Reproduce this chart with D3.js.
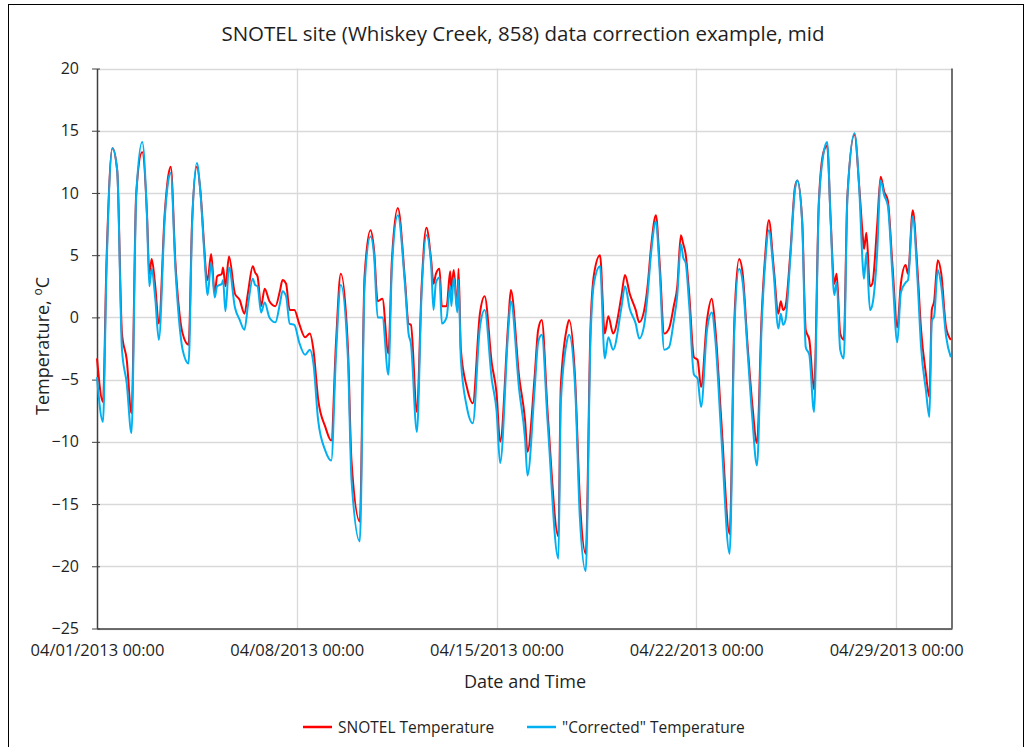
<!DOCTYPE html>
<html>
<head>
<meta charset="utf-8">
<script src="https://cdn.jsdelivr.net/npm/d3@7"></script>
<style>
  body { margin: 0; background: #fff; }
  text { font-family: "Open Sans", "Noto Sans", sans-serif; fill: #1f1f1f; }
</style>
</head>
<body>
<div id="chart"></div>
<script>
// hours after 04/01/2013 00:00 at turning points
const hours = [0, 5, 8, 13, 17, 21, 25, 29, 33, 38, 42, 44, 46, 49, 52, 57, 60, 62, 66, 70,
  72, 77, 80, 84, 87, 90, 92, 93, 96, 99, 101, 105, 106, 108, 111, 116, 120, 124, 127, 131,
  133, 135, 138, 141, 145, 150, 154, 156, 159, 162, 166, 170, 175, 179, 182, 186, 192, 197, 201, 205,
  211, 214, 221, 225, 230, 233, 236, 240, 245, 248, 253, 259, 262, 264, 269, 273, 277, 281, 283, 285,
  288, 290, 294, 297, 298, 300, 303, 304, 306, 311, 316, 322, 326, 332, 336, 339, 346, 348, 355, 360,
  362, 368, 371, 374, 379, 388, 390, 395, 397, 402, 406, 411, 415, 418, 423, 427, 430, 434, 441, 444,
  448, 453, 456, 460, 463, 466, 470, 473, 477, 481, 485, 488, 491, 493, 495, 498, 502, 505, 508, 513,
  517, 520, 525, 532, 536, 540, 543, 547, 551, 555, 559, 562, 565, 569, 573, 575, 577, 579, 583, 587,
  589, 593, 596, 599, 603, 607, 611, 614, 617, 620, 622, 625, 628, 631, 637, 641, 644, 645, 647, 650,
  652, 656, 659, 662, 665, 669, 673, 676, 680, 682, 686, 690, 693, 697, 700, 702, 704, 707, 710, 714, 718];

const snotel = [-3.3, -6.8, 4.5, 13.6, 11.8, -1.3, -3.4, -7.7, 10.0, 13.3, 8.4, 3.5, 4.7, 2.5, -0.5, 8.4, 11.4, 12.1, 4.3, -0.2,
  -1.3, -2.2, 7.8, 12.1, 10.1, 5.9, 3.3, 3.0, 5.1, 1.9, 3.3, 3.5, 4.0, 2.5, 4.9, 1.9, 1.4, 0.3, 2.0, 4.1,
  3.6, 3.3, 0.9, 2.3, 1.3, 0.9, 2.2, 3.0, 2.7, 0.6, 0.6, -0.5, -1.6, -1.3, -2.6, -6.6, -8.8, -9.9, -2.0, 3.5,
  -2.4, -11.5, -16.4, 3.3, 7.0, 5.4, 1.3, 1.5, -2.9, 4.6, 8.8, 3.0, -0.5, -0.6, -7.6, 2.5, 7.2, 4.6, 2.7, 3.5,
  3.9, 0.9, 0.9, 3.7, 2.2, 3.8, 0.6, 3.9, -2.6, -5.6, -6.9, 0.3, 1.7, -3.7, -6.1, -10.0, -0.2, 2.2, -4.8, -8.3,
  -10.8, -4.8, -1.0, -0.2, -7.7, -17.6, -5.6, -0.9, -0.2, -4.8, -14.5, -19.0, -0.8, 3.5, 5.0, -1.3, 0.1, -1.3, 1.7, 3.4,
  1.9, 0.6, -0.4, 0.5, 2.5, 5.7, 8.2, 4.6, -1.3, -0.9, 0.9, 2.5, 6.6, 5.9, 5.1, 1.9, -3.2, -3.4, -5.6, -0.2,
  1.5, -0.9, -8.3, -17.4, -0.2, 4.7, 3.5, -2.1, -6.9, -10.1, 0.3, 5.1, 7.8, 4.1, 0.3, 1.3, 0.6, 0.9, 5.1, 10.5,
  11.0, 7.8, -1.0, -1.8, -5.8, 9.2, 13.3, 13.8, 7.8, 2.7, 3.5, -1.3, -1.8, 9.7, 14.7, 10.5, 6.5, 5.5, 6.8, 2.5,
  2.7, 7.3, 11.3, 10.1, 9.4, 4.1, -0.8, 2.7, 4.2, 3.5, 8.6, 3.8, -1.0, -4.5, -6.4, 0.6, 1.3, 4.6, 3.5, -0.8, -1.8];

const corrected = [-4.8, -8.4, 3.8, 13.6, 11.8, -2.6, -5.3, -9.3, 9.8, 14.1, 8.2, 2.5, 3.9, 1.5, -1.8, 8.0, 11.0, 11.6, 3.8, -1.2,
  -2.6, -3.7, 7.5, 12.4, 10.0, 5.5, 2.6, 1.8, 4.4, 1.6, 2.5, 2.7, 3.0, 0.5, 4.0, 0.8, -0.2, -1.0, 1.0, 3.1,
  2.6, 2.5, 0.4, 1.2, 0.0, -0.4, 1.2, 2.1, 1.7, -0.5, -0.6, -2.0, -3.0, -2.6, -3.7, -8.3, -10.7, -11.5, -3.0, 2.6,
  -3.3, -13.0, -18.0, 2.5, 6.5, 5.0, 0.0, 0.0, -4.6, 4.0, 8.2, 2.6, -1.3, -2.1, -9.2, 2.0, 6.6, 4.2, 0.6, 2.8,
  3.2, -0.5, 0.0, 2.5, 0.9, 3.2, 0.4, 3.0, -3.4, -7.2, -8.5, -0.8, 0.6, -5.0, -7.5, -11.7, -0.8, 1.3, -5.8, -9.8,
  -12.7, -5.8, -2.0, -1.4, -8.5, -19.4, -7.0, -2.0, -1.4, -5.5, -16.0, -20.4, -1.8, 2.8, 4.1, -3.3, -1.6, -2.6, 0.8, 2.5,
  0.7, -0.5, -1.7, -0.7, 1.8, 5.2, 7.7, 4.0, -2.6, -2.4, -0.3, 1.8, 5.9, 4.8, 4.4, 1.0, -4.6, -4.9, -7.2, -1.0,
  0.4, -1.8, -9.5, -19.0, -1.0, 3.9, 2.8, -2.6, -8.0, -11.9, -0.5, 4.5, 7.0, 3.6, -0.9, 0.3, -0.6, -0.2, 4.7, 10.3,
  11.0, 7.6, -2.4, -3.0, -7.6, 9.0, 13.2, 14.1, 7.6, 1.8, 2.8, -2.6, -3.3, 9.5, 14.8, 10.3, 4.1, 3.1, 5.2, 0.6,
  1.0, 5.1, 11.0, 9.8, 9.0, 3.3, -2.0, 2.0, 2.8, 3.0, 8.1, 3.0, -2.4, -5.8, -8.0, -0.3, 0.1, 3.8, 2.5, -1.5, -3.2];

const tickDays = [0, 7, 14, 21, 28];
const tickLabels = ["04/01/2013 00:00", "04/08/2013 00:00", "04/15/2013 00:00", "04/22/2013 00:00", "04/29/2013 00:00"];
const yTicks = [-25, -20, -15, -10, -5, 0, 5, 10, 15, 20];
const seriesNames = ["SNOTEL Temperature", "\"Corrected\" Temperature"];
const seriesColors = ["#ff0000", "#00b0f0"];

const W = 1030, H = 747;
const margin = { top: 68.5, right: 78, bottom: 118.5, left: 97 };
const start = Date.UTC(2013, 3, 1);
const toDate = h => new Date(start + h * 3600000);

const svg = d3.select("#chart").append("svg").attr("width", W).attr("height", H);

// outer chart border
svg.append("rect").attr("x", 8.5).attr("y", 4.5).attr("width", 1015).attr("height", 760)
  .attr("fill", "none").attr("stroke", "#000").attr("stroke-width", 1);

const x = d3.scaleUtc().domain([toDate(0), toDate(719)]).range([margin.left, W - margin.right]);
const y = d3.scaleLinear().domain([-25, 20]).range([H - margin.bottom, margin.top]);

// gridlines
svg.append("g").selectAll("line").data(yTicks).enter().append("line")
  .attr("x1", margin.left).attr("x2", W - margin.right)
  .attr("y1", d => Math.round(y(d)) + 0.5).attr("y2", d => Math.round(y(d)) + 0.5)
  .attr("stroke", "#d9d9d9").attr("stroke-width", 1.3);
svg.append("g").selectAll("line").data(tickDays.slice(1)).enter().append("line")
  .attr("x1", d => Math.round(x(toDate(d * 24))) + 0.5).attr("x2", d => Math.round(x(toDate(d * 24))) + 0.5)
  .attr("y1", margin.top).attr("y2", H - margin.bottom)
  .attr("stroke", "#d9d9d9").attr("stroke-width", 1.3);

// axes
const yAxis = svg.append("g").attr("transform", `translate(${margin.left},0)`)
  .call(d3.axisLeft(y).tickValues(yTicks).tickSize(5).tickSizeOuter(0));
yAxis.select(".domain").attr("stroke", "#404040").attr("stroke-width", 1.5);
yAxis.selectAll(".tick line").attr("stroke", "#404040").attr("x2", -5).attr("x1", 3);
yAxis.selectAll("text").attr("x", -18).style("font-size", "16px").style("font-family", "Open Sans");

const xAxis = svg.append("g").attr("transform", `translate(0,${H - margin.bottom})`)
  .call(d3.axisBottom(x).tickValues(tickDays.map(d => toDate(d * 24)))
    .tickFormat((d, i) => tickLabels[i]).tickSize(0).tickSizeOuter(0));
xAxis.select(".domain").attr("stroke", "#404040").attr("stroke-width", 1.5);
xAxis.selectAll("text").attr("y", 16).style("font-size", "16.5px").style("font-family", "Open Sans");

// right edge of plot area
svg.append("line").attr("x1", W - margin.right).attr("x2", W - margin.right)
  .attr("y1", margin.top).attr("y2", H - margin.bottom)
  .attr("stroke", "#404040").attr("stroke-width", 1.5);

// series
const lines = [snotel, corrected];
lines.forEach((vals, k) => {
  const pts = hours.map((h, i) => ({ t: toDate(h), v: vals[i] }));
  svg.append("path").datum(pts)
    .attr("fill", "none").attr("stroke", seriesColors[k]).attr("stroke-width", 2)
    .attr("stroke-linejoin", "round")
    .attr("d", d3.line().curve(d3.curveMonotoneX).x(d => x(d.t)).y(d => y(d.v)));
});

// titles
svg.append("text").attr("x", 523).attr("y", 41).attr("text-anchor", "middle")
  .style("font-size", "20.5px").text("SNOTEL site (Whiskey Creek, 858) data correction example, mid");

svg.append("text").attr("x", 525).attr("y", 688).attr("text-anchor", "middle")
  .style("font-size", "18px").text("Date and Time");

const yl = svg.append("text").attr("transform", "translate(49,346) rotate(-90)").attr("text-anchor", "middle")
  .style("font-size", "18px");
yl.append("tspan").text("Temperature, ");
yl.append("tspan").attr("dy", -7).style("font-size", "12px").text("o");
yl.append("tspan").attr("dy", 7).text("C");

// legend
const legendX = [303, 527];
seriesNames.forEach((name, k) => {
  const g = svg.append("g").attr("transform", `translate(${legendX[k]},727)`);
  g.append("line").attr("x1", 0).attr("x2", 29).attr("stroke", seriesColors[k]).attr("stroke-width", 2.5);
  g.append("text").attr("x", 35).attr("y", 5.5).style("font-size", "15.5px").text(name);
});
</script>
</body>
</html>
